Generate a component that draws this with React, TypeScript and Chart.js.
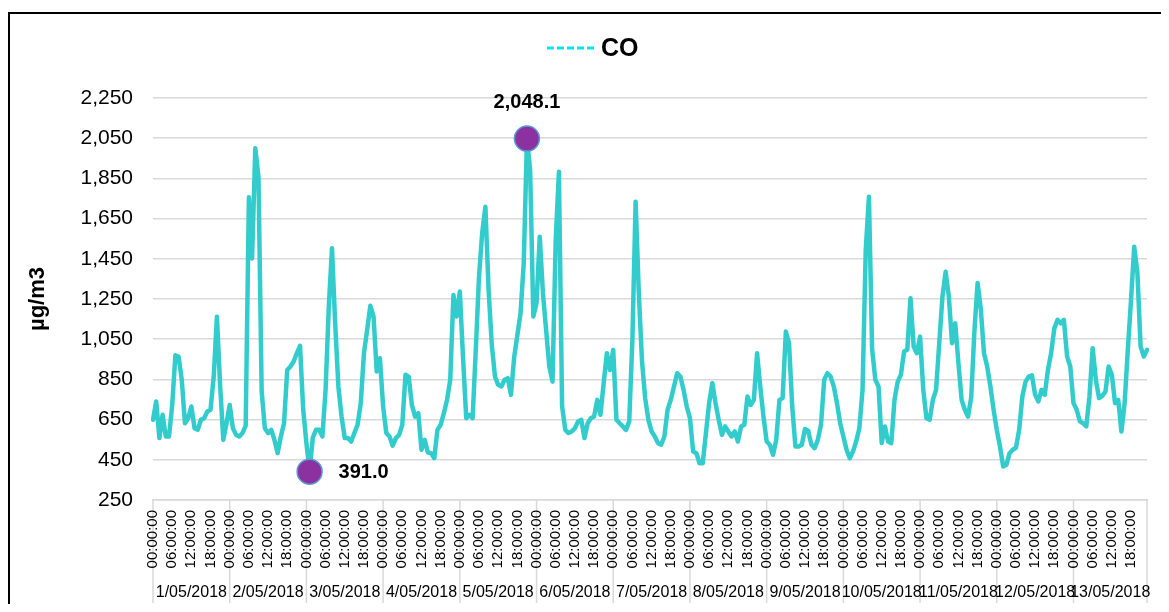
import React, { useEffect, useRef } from 'react';
import { Chart, registerables } from 'chart.js';

Chart.register(...registerables);

// ---- data ----
const dates = [
  '1/05/2018', '2/05/2018', '3/05/2018', '4/05/2018', '5/05/2018', '6/05/2018', '7/05/2018',
  '8/05/2018', '9/05/2018', '10/05/2018', '11/05/2018', '12/05/2018', '13/05/2018',
];
const hours = [
  '00:00:00', '01:00:00', '02:00:00', '03:00:00', '04:00:00', '05:00:00',
  '06:00:00', '07:00:00', '08:00:00', '09:00:00', '10:00:00', '11:00:00',
  '12:00:00', '13:00:00', '14:00:00', '15:00:00', '16:00:00', '17:00:00',
  '18:00:00', '19:00:00', '20:00:00', '21:00:00', '22:00:00', '23:00:00',
];
const co_0105 = [649, 740, 558, 674, 566, 566, 720, 970, 964, 848, 632, 657, 715, 607, 599, 649, 657, 690, 699, 864, 1162, 820, 549, 632];
const co_0205 = [723, 607, 574, 566, 583, 620, 1756, 1452, 2000, 1858, 790, 607, 583, 599, 549, 483, 566, 632, 897, 914, 939, 980, 1017, 699];
const co_0305 = [533, 391, 560, 599, 599, 566, 798, 1212, 1502, 1129, 815, 665, 558, 558, 541, 583, 624, 732, 980, 1096, 1216, 1163, 889, 955];
const co_0405 = [715, 583, 566, 520, 558, 574, 624, 873, 864, 723, 665, 682, 500, 549, 486, 483, 458, 599, 624, 682, 748, 848, 1270, 1163];
const co_0505 = [1287, 960, 657, 674, 657, 1000, 1361, 1580, 1709, 1295, 1022, 864, 823, 815, 848, 856, 773, 960, 1070, 1180, 1430, 2048.1, 1891, 1163];
const co_0605 = [1229, 1560, 1280, 1096, 914, 839, 1544, 1883, 715, 599, 583, 591, 607, 641, 649, 558, 632, 657, 665, 748, 674, 831, 980, 897];
const co_0705 = [997, 649, 632, 616, 599, 641, 1050, 1734, 1280, 940, 755, 649, 591, 566, 533, 525, 566, 699, 748, 815, 881, 864, 798, 715];
const co_0805 = [657, 491, 483, 433, 433, 583, 732, 831, 732, 649, 574, 616, 591, 566, 591, 541, 616, 624, 765, 723, 748, 980, 815, 665];
const co_0905 = [541, 525, 475, 549, 748, 757, 1088, 1030, 715, 516, 516, 525, 603, 595, 525, 508, 549, 624, 848, 881, 864, 815, 732, 632];
const co_1005 = [566, 500, 458, 491, 541, 607, 798, 1494, 1759, 1000, 848, 815, 533, 616, 541, 533, 748, 839, 873, 989, 997, 1254, 1013, 980];
const co_1105 = [1063, 798, 657, 649, 748, 798, 1030, 1262, 1386, 1262, 1030, 1129, 931, 748, 699, 665, 760, 1090, 1330, 1200, 980, 914, 815, 699];
const co_1205 = [599, 516, 417, 425, 483, 500, 510, 599, 765, 839, 864, 870, 773, 740, 798, 773, 897, 980, 1104, 1146, 1129, 1146, 964, 914];
const co_1305 = [732, 699, 641, 632, 616, 765, 1005, 848, 757, 768, 790, 914, 873, 732, 748, 591, 732, 997, 1245, 1510, 1380, 1013, 964, 997];

const seriesName = 'CO';
const yAxisTitle = 'µg/m3';
const yMin = 250;
const yMax = 2250;
const yStep = 200;

const FONT = '"Liberation Sans", Arial, Helvetica, sans-serif';

export default function App() {
  const ref = useRef<HTMLCanvasElement>(null);

  useEffect(() => {
    const canvas = ref.current;
    if (!canvas) return;
    const values = [
      ...co_0105, ...co_0205, ...co_0305, ...co_0405, ...co_0505, ...co_0605, ...co_0705,
      ...co_0805, ...co_0905, ...co_1005, ...co_1105, ...co_1205, ...co_1305,
    ];
    const labels = dates.flatMap((d) => hours.map((h) => `${d} ${h}`));
    let minIdx = 0;
    let maxIdx = 0;
    values.forEach((v, i) => {
      if (v < values[minIdx]) minIdx = i;
      if (v > values[maxIdx]) maxIdx = i;
    });
    const extremes = values.map((v, i) => (i === minIdx || i === maxIdx ? v : null));
    const fmt1 = (v: number) =>
      v.toLocaleString('en-US', { minimumFractionDigits: 1, maximumFractionDigits: 1 });

    const decor = {
      id: 'decor',
      beforeDraw(chart: any) {
        const { ctx, chartArea } = chart;
        const xs = chart.scales.x;
        ctx.save();
        // day separators (under the tick labels)
        ctx.strokeStyle = '#d9d9d9';
        ctx.lineWidth = 1.5;
        const seps: number[] = [];
        for (let k = 0; k <= dates.length; k++) {
          let px = k < dates.length ? xs.getPixelForValue(k * 24) : chartArea.right;
          if (px > chartArea.right) px = chartArea.right;
          seps.push(px);
          ctx.beginPath();
          ctx.moveTo(px, chartArea.bottom);
          ctx.lineTo(px, chartArea.bottom + 103);
          ctx.stroke();
        }
        // date labels
        ctx.fillStyle = '#000';
        ctx.font = `16px ${FONT}`;
        ctx.textAlign = 'center';
        ctx.textBaseline = 'middle';
        dates.forEach((d, k) => {
          ctx.fillText(d, (seps[k] + seps[k + 1]) / 2, chartArea.bottom + 93);
        });
        ctx.restore();
      },
      afterDatasetsDraw(chart: any) {
        const { ctx } = chart;
        const meta = chart.getDatasetMeta(0);
        ctx.save();
        ctx.fillStyle = '#000';
        ctx.font = `bold 20px ${FONT}`;
        ctx.textBaseline = 'middle';
        const pMin = meta.data[minIdx];
        const pMax = meta.data[maxIdx];
        if (pMin) {
          ctx.textAlign = 'left';
          ctx.fillText(fmt1(values[minIdx]), pMin.x + 29, pMin.y + 1);
        }
        if (pMax) {
          ctx.textAlign = 'center';
          ctx.fillText(fmt1(values[maxIdx]), pMax.x, pMax.y - 36);
        }
        ctx.restore();
      },
      afterDraw(chart: any) {
        const { ctx, chartArea } = chart;
        ctx.save();
        ctx.fillStyle = '#000';
        ctx.textAlign = 'center';
        ctx.textBaseline = 'middle';
        // y-axis title
        ctx.save();
        ctx.translate(28, (chartArea.top + chartArea.bottom) / 2);
        ctx.rotate(-Math.PI / 2);
        ctx.font = `bold 22px ${FONT}`;
        ctx.fillText(yAxisTitle, 0, 0);
        ctx.restore();
        // legend
        ctx.strokeStyle = '#00E5EE';
        ctx.lineWidth = 3;
        ctx.setLineDash([7, 3]);
        ctx.beginPath();
        ctx.moveTo(537, 34);
        ctx.lineTo(585, 34);
        ctx.stroke();
        ctx.setLineDash([]);
        ctx.font = `bold 25px ${FONT}`;
        ctx.textAlign = 'left';
        ctx.fillText(seriesName, 591, 35);
        ctx.restore();
      },
    };

    const chart = new Chart(canvas, {
      type: 'line',
      data: {
        labels,
        datasets: [
          {
            label: 'extremes',
            data: extremes,
            showLine: false,
            pointRadius: 12.5,
            pointBackgroundColor: '#8B32A0',
            pointBorderColor: '#5B9BD5',
            pointBorderWidth: 1.5,
            order: 0,
          },
          {
            label: seriesName,
            data: values,
            borderColor: '#33CCCC',
            backgroundColor: '#33CCCC',
            borderWidth: 4.5,
            pointRadius: 0,
            tension: 0,
            borderJoinStyle: 'round',
            borderCapStyle: 'round',
            order: 1,
          },
        ],
      },
      options: {
        responsive: false,
        animation: false,
        devicePixelRatio: 1,
        layout: { padding: { top: 84, right: 10, left: 0, bottom: 0 } },
        plugins: {
          legend: { display: false },
          tooltip: { enabled: false },
          title: { display: false },
        },
        scales: {
          x: {
            type: 'category',
            offset: false,
            grid: { display: false, drawTicks: false },
            border: { display: true, color: '#d9d9d9', width: 1.5 },
            ticks: {
              autoSkip: false,
              minRotation: 90,
              maxRotation: 90,
              padding: 10,
              color: '#000',
              font: { family: FONT, size: 15 },
              callback: (_v: any, i: number) => (i % 6 === 0 ? hours[i % 24] : ''),
            },
            afterFit: (s: any) => {
              s.height = 104;
              s.paddingLeft = 0;
              s.paddingRight = 0;
            },
          },
          y: {
            min: yMin,
            max: yMax,
            grid: { color: '#d9d9d9', lineWidth: 1.5, drawTicks: false },
            border: { display: false },
            ticks: {
              stepSize: yStep,
              padding: 20,
              color: '#000',
              font: { family: FONT, size: 21 },
              callback: (v: any) => Number(v).toLocaleString('en-US'),
            },
            afterFit: (s: any) => {
              s.width = 143;
              s.paddingTop = 0;
              s.paddingBottom = 0;
            },
          },
        },
      },
      plugins: [decor],
    } as any);

    return () => chart.destroy();
  }, []);

  return (
    <div style={{ paddingTop: 4 }}>
      <div style={{ borderTop: '2px solid #000', borderLeft: '2px solid #000', width: 1151, height: 590 }}>
        <canvas ref={ref} width={1151} height={590} style={{ display: 'block', width: 1151, height: 590 }} />
      </div>
    </div>
  );
}
